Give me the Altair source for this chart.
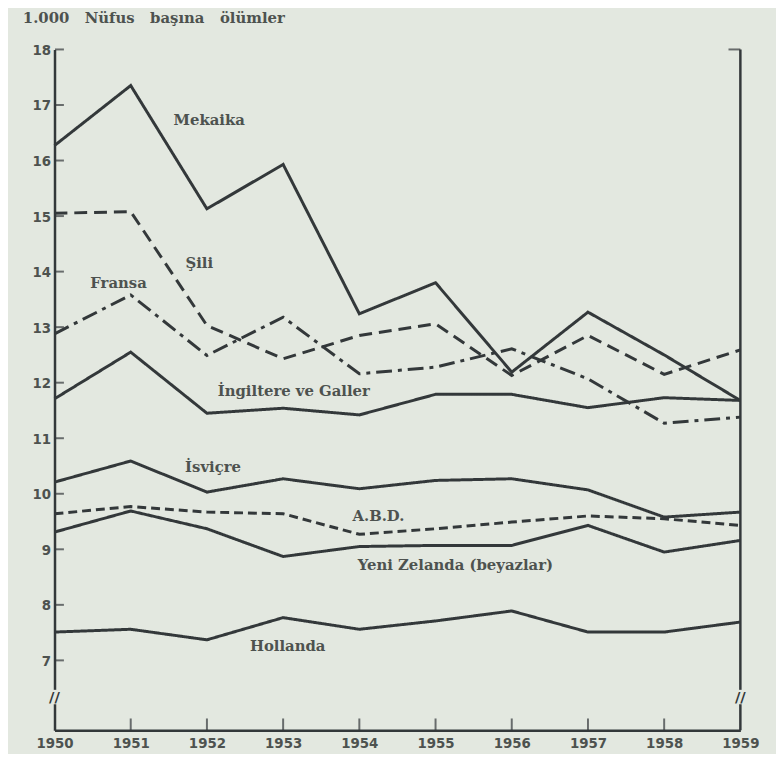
import altair as alt
import pandas as pd

years = [1950, 1951, 1952, 1953, 1954, 1955, 1956, 1957, 1958, 1959]

series_names = ["Mekaika", "Şili", "Fransa", "İngiltere ve Galler",
                "İsviçre", "A.B.D.", "Yeni Zelanda (beyazlar)", "Hollanda"]

mekaika   = [16.27, 17.35, 15.13, 15.93, 13.24, 13.80, 12.19, 13.27, 12.50, 11.68]
sili      = [15.05, 15.08, 13.03, 12.43, 12.85, 13.06, 12.13, 12.85, 12.15, 12.59]
fransa    = [12.88, 13.58, 12.49, 13.18, 12.16, 12.28, 12.61, 12.07, 11.27, 11.38]
ingiltere = [11.71, 12.55, 11.45, 11.54, 11.42, 11.79, 11.79, 11.55, 11.73, 11.68]
isvicre   = [10.21, 10.59, 10.03, 10.27, 10.09, 10.24, 10.27, 10.07, 9.58, 9.67]
abd       = [9.64, 9.77, 9.67, 9.64, 9.27, 9.37, 9.49, 9.60, 9.55, 9.43]
yeni_z    = [9.31, 9.69, 9.37, 8.87, 9.05, 9.07, 9.07, 9.43, 8.95, 9.16]
hollanda  = [7.51, 7.56, 7.37, 7.77, 7.56, 7.71, 7.89, 7.51, 7.51, 7.69]

label_x = [1952.03, 1951.9, 1950.84, 1953.14, 1952.08, 1954.25, 1955.26, 1953.06]
label_y = [16.72, 14.15, 13.79, 11.85, 10.48, 9.59, 8.71, 7.25]

y_tick_values = [7, 8, 9, 10, 11, 12, 13, 14, 15, 16, 17, 18]
y_min = 5.74
y_max = 18
break_y = 6.34

title_text = "1.000\u00a0\u00a0 Nüfus\u00a0\u00a0 başına\u00a0\u00a0 ölümler"

dash_styles = [[1, 0], [13, 7], [16, 6, 4, 6], [1, 0], [1, 0], [9, 5], [1, 0], [1, 0]]

BG = "#e3e8e0"
INK = "#33383a"
TXT = "#4d524f"

all_values = [mekaika, sili, fransa, ingiltere, isvicre, abd, yeni_z, hollanda]
rows = []
for name, vals in zip(series_names, all_values):
    for yr, v in zip(years, vals):
        rows.append({"series": name, "x": yr, "y": v})
lines_df = pd.DataFrame(rows)

labels_df = pd.DataFrame({"series": series_names, "x": label_x, "y": label_y})
yticks_df = pd.DataFrame({"x": [years[0]] * len(y_tick_values), "y": y_tick_values})
xticks_df = pd.DataFrame({"x": years[1:-1], "y": [y_min] * (len(years) - 2)})

xs = alt.Scale(domain=[years[0], years[-1]], nice=False, zero=False)
ys = alt.Scale(domain=[y_min, y_max], nice=False, zero=False)

x_axis = alt.Axis(
    values=years, format="d", title=None, ticks=False, grid=False, labelFlush=False,
    domainColor=INK, domainWidth=2.5, labelFont="DejaVu Sans Condensed",
    labelFontSize=15, labelFontWeight="bold", labelColor=TXT, labelPadding=5)
y_axis = alt.Axis(
    values=y_tick_values, format="d", title=None, ticks=False, grid=False, labelFlush=False,
    domainColor=INK, domainWidth=2.5, labelFont="DejaVu Sans Condensed",
    labelFontSize=15, labelFontWeight="bold", labelColor=TXT, labelPadding=4)


def X():
    return alt.X("x:Q", scale=xs, axis=x_axis)


def Y():
    return alt.Y("y:Q", scale=ys, axis=y_axis)


lines = alt.Chart(lines_df).mark_line(strokeWidth=3, color=INK, strokeJoin="miter").encode(
    x=X(), y=Y(),
    detail="series:N",
    strokeDash=alt.StrokeDash("series:N", scale=alt.Scale(domain=series_names, range=dash_styles), legend=None),
)

labels = alt.Chart(labels_df).mark_text(
    font="DejaVu Serif", fontSize=15, fontWeight="bold", color=TXT
).encode(x=X(), y=Y(), text="series:N")

yticks = alt.Chart(yticks_df).mark_tick(
    orient="horizontal", size=9, thickness=2, xOffset=5, color=INK
).encode(x=X(), y=Y())

xticks = alt.Chart(xticks_df).mark_tick(
    orient="vertical", size=12, thickness=2, yOffset=-6, color=INK
).encode(x=X(), y=Y())

frame_df = pd.DataFrame({"x": [years[-1]], "y": [y_min], "y2": [y_max]})
right_rule = alt.Chart(frame_df).mark_rule(strokeWidth=2.5, color=INK).encode(
    x=X(), y=Y(), y2="y2:Q")

top_tick = alt.Chart(pd.DataFrame({"x": [years[-1]], "y": [y_max]})).mark_tick(
    orient="horizontal", size=12, thickness=2, xOffset=-6, color=INK
).encode(x=X(), y=Y())

break_df = pd.DataFrame({"x": [years[0], years[-1]], "y": [break_y - 0.13, break_y - 0.13],
                         "y2": [break_y + 0.13, break_y + 0.13]})
gaps = alt.Chart(break_df).mark_rule(strokeWidth=7, color=BG).encode(
    x=X(), y=Y(), y2="y2:Q")
breaks = alt.Chart(pd.DataFrame({"x": [years[0], years[-1]], "y": [break_y, break_y]})).mark_text(
    text="//", font="DejaVu Sans", fontSize=15, fontWeight="bold", color=INK
).encode(x=X(), y=Y())

chart = alt.layer(lines, labels, yticks, xticks, right_rule, top_tick, gaps, breaks).properties(
    width=693,
    height=688,
    autosize="none",
    padding={"left": 47, "top": 38, "right": 36, "bottom": 20},
    background=BG,
    title=alt.TitleParams(
        text=title_text, anchor="start", frame="group", dx=-32, offset=17,
        font="DejaVu Serif", fontSize=15, fontWeight="bold", color=TXT,
    ),
).configure_view(stroke=None)

chart.save("out.html", embed_options={"renderer": "svg", "actions": False})
